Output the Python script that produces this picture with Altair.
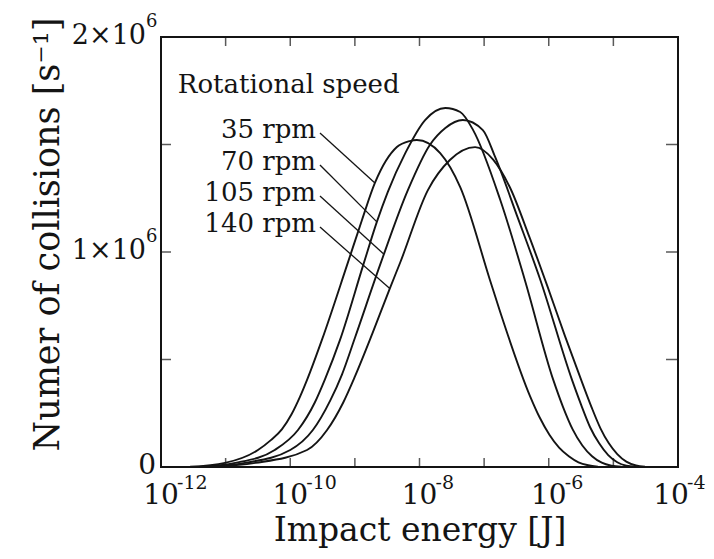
import altair as alt
import pandas as pd

FONT = "DejaVu Serif"
INK = "#141414"

# ---- data (log10 of impact energy [J], collisions [1/s]) ----
speeds = ["35 rpm", "70 rpm", "105 rpm", "140 rpm"]

logE_35 = [-11.55, -11.01, -10.50, -10.30, -10.13, -9.98, -9.85, -9.74, -9.51, -9.12,
           -8.89, -8.69, -8.35, -8.15, -8.04, -7.68, -7.37, -6.91, -6.75, -6.29,
           -6.14, -5.99, -5.84, -5.69, -5.54, -5.39, -5.24]
n_35 = [0.001e6, 0.019e6, 0.079e6, 0.125e6, 0.175e6, 0.245e6, 0.326e6, 0.405e6, 0.591e6, 0.940e6,
        1.149e6, 1.321e6, 1.488e6, 1.516e6, 1.521e6, 1.460e6, 1.302e6, 0.870e6, 0.720e6, 0.330e6,
        0.230e6, 0.150e6, 0.090e6, 0.050e6, 0.022e6, 0.008e6, 0.001e6]

logE_70 = [-11.40, -10.85, -10.24, -9.88, -9.62, -9.46, -9.23, -8.87, -8.66, -8.49,
           -8.22, -7.91, -7.60, -7.37, -7.17, -6.75, -6.37, -5.93, -5.78, -5.63,
           -5.48, -5.33, -5.18, -5.03, -4.88]
n_70 = [0.001e6, 0.019e6, 0.079e6, 0.172e6, 0.300e6, 0.410e6, 0.591e6, 0.940e6, 1.140e6, 1.280e6,
        1.460e6, 1.615e6, 1.670e6, 1.651e6, 1.567e6, 1.242e6, 0.870e6, 0.405e6, 0.280e6, 0.175e6,
        0.100e6, 0.050e6, 0.020e6, 0.006e6, 0.001e6]

logE_105 = [-11.32, -10.70, -10.00, -9.65, -9.38, -9.20, -9.00, -8.61, -8.18, -7.84,
            -7.60, -7.33, -7.02, -6.83, -6.48, -6.13, -5.64, -5.50, -5.36, -5.22,
            -5.08, -4.94, -4.80, -4.66]
n_105 = [0.001e6, 0.019e6, 0.079e6, 0.172e6, 0.310e6, 0.430e6, 0.600e6, 0.940e6, 1.288e6, 1.498e6,
         1.577e6, 1.614e6, 1.567e6, 1.442e6, 1.160e6, 0.870e6, 0.405e6, 0.290e6, 0.185e6, 0.110e6,
         0.055e6, 0.022e6, 0.006e6, 0.001e6]

logE_140 = [-11.24, -10.54, -9.74, -9.43, -9.18, -9.00, -8.73, -8.46, -8.30, -7.87,
            -7.53, -7.14, -6.86, -6.60, -6.30, -6.02, -5.75, -5.48, -5.34, -5.20,
            -5.07, -4.94, -4.80, -4.65, -4.51]
n_140 = [0.001e6, 0.019e6, 0.079e6, 0.172e6, 0.300e6, 0.420e6, 0.620e6, 0.830e6, 0.950e6, 1.288e6,
         1.428e6, 1.488e6, 1.430e6, 1.300e6, 1.070e6, 0.840e6, 0.610e6, 0.390e6, 0.280e6, 0.180e6,
         0.110e6, 0.060e6, 0.025e6, 0.007e6, 0.001e6]

# leader lines: label anchor -> point on curve
leader_logE_start = [-9.54, -9.54, -9.54, -9.54]
leader_n_start = [1.553e6, 1.405e6, 1.260e6, 1.116e6]
leader_logE_end = [-8.69, -8.66, -8.55, -8.46]
leader_n_end = [1.321e6, 1.140e6, 0.990e6, 0.830e6]

legend_title = "Rotational speed"
legend_title_logE = -11.74
legend_title_n = 1.740e6

x_label_exps = [-12, -10, -8, -6]
x_last_label_exp = -4
x_tick_exps = [-11, -10, -9, -8, -7, -6, -5]
y_label_values = [1e6, 2e6]
y_label_bases = ["1×10", "2×10"]
y_label_exps = ["6", "6"]
y_tick_values = [5e5, 1e6, 1.5e6]

x_title = "Impact energy [J]"
y_title = "Numer of collisions [s⁻¹]"

# ---- tables ----
rows = []
for name, xs_, ys_ in zip(speeds, [logE_35, logE_70, logE_105, logE_140], [n_35, n_70, n_105, n_140]):
    for lx, v in zip(xs_, ys_):
        rows.append({"speed": name, "energy": 10 ** lx, "n": v})
curves = pd.DataFrame(rows)

leaders = pd.DataFrame({
    "speed": speeds,
    "e0": [10 ** v for v in leader_logE_start],
    "n0": leader_n_start,
    "e1": [10 ** v for v in leader_logE_end],
    "n1": leader_n_end,
})

xlab = pd.DataFrame({"energy": [10.0 ** e for e in x_label_exps],
                     "base": ["10"] * len(x_label_exps),
                     "exp": [str(e) for e in x_label_exps]})
xlab_last = pd.DataFrame({"energy": [10.0 ** x_last_label_exp], "base": ["10"],
                          "exp": [str(x_last_label_exp)]})
xticks = pd.DataFrame({"energy": [10.0 ** e for e in x_tick_exps]})
ylab = pd.DataFrame({"n": y_label_values, "base": y_label_bases, "exp": y_label_exps})
yticks = pd.DataFrame({"n": y_tick_values})
title_df = pd.DataFrame({"energy": [10 ** legend_title_logE], "n": [legend_title_n], "t": [legend_title]})

xs = alt.Scale(type="log", domain=[1e-12, 1e-4])
ys = alt.Scale(domain=[0, 2e6], nice=False, zero=False)

X_MIN = 1e-12
X_MAX = 1e-4

lines = alt.Chart(curves).mark_line(color=INK, strokeWidth=1.9, interpolate="monotone").encode(
    x=alt.X("energy:Q", scale=xs,
            axis=alt.Axis(labels=False, ticks=False, domain=False, grid=False,
                          title=x_title, titleFont=FONT, titleFontSize=33,
                          titleFontWeight="normal", titleColor=INK,
                          titleY=73, titleBaseline="alphabetic")),
    y=alt.Y("n:Q", scale=ys,
            axis=alt.Axis(labels=False, ticks=False, domain=False, grid=False,
                          title=y_title, titleFont=FONT, titleFontSize=35,
                          titleFontWeight="normal", titleColor=INK,
                          titleX=-103, titleY=197, titleAngle=-90,
                          titleAlign="center", titleBaseline="alphabetic")),
    detail="speed:N",
)

leader_rules = alt.Chart(leaders).mark_rule(color=INK, strokeWidth=1.3).encode(
    x=alt.X("e0:Q", scale=xs), y=alt.Y("n0:Q", scale=ys),
    x2="e1:Q", y2="n1:Q",
)
leader_text = alt.Chart(leaders).mark_text(
    font=FONT, fontSize=26, color=INK, align="right", baseline="alphabetic", dx=-4, dy=5
).encode(x=alt.X("e0:Q", scale=xs), y=alt.Y("n0:Q", scale=ys), text="speed:N")

title_text = alt.Chart(title_df).mark_text(
    font=FONT, fontSize=26, color=INK, align="left", baseline="alphabetic"
).encode(x=alt.X("energy:Q", scale=xs), y=alt.Y("n:Q", scale=ys), text="t:N")

# ticks (inward)
xt_bottom = alt.Chart(xticks).mark_tick(orient="vertical", color=INK, size=9, thickness=1.5, yOffset=-4.5).encode(
    x=alt.X("energy:Q", scale=xs), y=alt.YDatum(0, scale=ys))
xt_top = alt.Chart(xticks).mark_tick(orient="vertical", color=INK, size=9, thickness=1.5, yOffset=4.5).encode(
    x=alt.X("energy:Q", scale=xs), y=alt.YDatum(2e6, scale=ys))
yt_left = alt.Chart(yticks).mark_tick(orient="horizontal", color=INK, size=10, thickness=1.5, xOffset=5).encode(
    y=alt.Y("n:Q", scale=ys), x=alt.XDatum(X_MIN, scale=xs))
yt_right = alt.Chart(yticks).mark_tick(orient="horizontal", color=INK, size=12, thickness=1.5, xOffset=-6).encode(
    y=alt.Y("n:Q", scale=ys), x=alt.XDatum(X_MAX, scale=xs))

# tick labels with real superscripts
def x_label_layers(df, shift):
    b = alt.Chart(df).mark_text(font=FONT, fontSize=28, color=INK, align="center",
                                baseline="alphabetic", dx=shift, dy=37).encode(
        x=alt.X("energy:Q", scale=xs), y=alt.YDatum(0, scale=ys), text="base:N")
    e = alt.Chart(df).mark_text(font=FONT, fontSize=19, color=INK, align="left",
                                baseline="alphabetic", dx=16 + shift, dy=22).encode(
        x=alt.X("energy:Q", scale=xs), y=alt.YDatum(0, scale=ys), text="exp:N")
    return [b, e]

xl_layers = x_label_layers(xlab, 0) + x_label_layers(xlab_last, -7)

yl_base = alt.Chart(ylab).mark_text(font=FONT, fontSize=27, color=INK, align="right",
                                    baseline="alphabetic", dx=-15, dy=7).encode(
    y=alt.Y("n:Q", scale=ys), x=alt.XDatum(X_MIN, scale=xs), text="base:N")
yl_exp = alt.Chart(ylab).mark_text(font=FONT, fontSize=18, color=INK, align="left",
                                   baseline="alphabetic", dx=-15, dy=-10).encode(
    y=alt.Y("n:Q", scale=ys), x=alt.XDatum(X_MIN, scale=xs), text="exp:N")
yl_zero = alt.Chart(pd.DataFrame({"n": [0], "t": ["0"]})).mark_text(
    font=FONT, fontSize=28, color=INK, align="right", baseline="alphabetic", dx=-5, dy=7).encode(
    y=alt.Y("n:Q", scale=ys), x=alt.XDatum(X_MIN, scale=xs), text="t:N")

chart = alt.layer(
    lines, leader_rules, leader_text, title_text,
    xt_bottom, xt_top, yt_left, yt_right,
    *xl_layers, yl_base, yl_exp, yl_zero,
).properties(
    width=517, height=430,
    autosize=alt.AutoSizeParams(type="none"),
    padding={"left": 153, "top": 29, "right": 28, "bottom": 84},
    background="white",
).configure_view(stroke=INK, strokeWidth=2)

chart.save("out.html", embed_options={"renderer": "svg", "actions": False})
